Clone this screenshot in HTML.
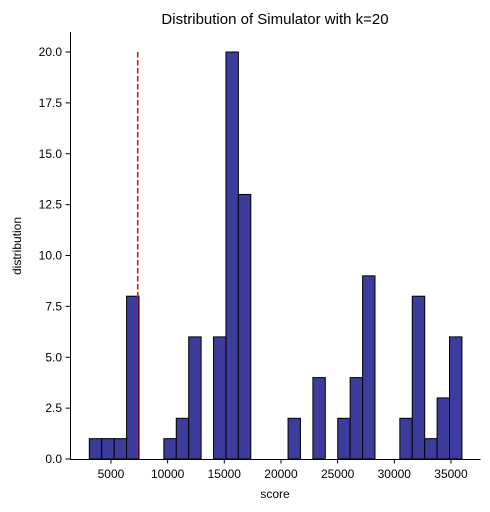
<!DOCTYPE html>
<html><head><meta charset="utf-8"><style>
body{margin:0;background:#fff;}
svg{display:block;font-family:"Liberation Sans","DejaVu Sans",sans-serif;}
</style></head><body>
<svg id="chart" width="490" height="512">
<text x="275" y="24" text-anchor="middle" font-size="15" fill="#000">Distribution of Simulator with k=20</text>
<g id="bars"></g>
<g id="xticks"></g>
<g id="yticks"></g>
<line x1="70.5" y1="32" x2="70.5" y2="459" stroke="#000" stroke-width="1"/>
<line x1="70" y1="459.5" x2="480.5" y2="459.5" stroke="#000" stroke-width="1"/>
<text x="275" y="498" text-anchor="middle" font-size="12">score</text>
<text x="0" y="0" transform="translate(21,246) rotate(-90)" text-anchor="middle" font-size="12">distribution</text>
</svg>
<script>
const binStart = 3090;
const binWidth = 1096;
const counts = [1,1,1,8,0,0,1,2,6,0,6,20,13,0,0,0,2,0,4,0,2,4,9,0,0,2,8,1,3,6];
const xTickValues = [5000,10000,15000,20000,25000,30000,35000];
const yTickValues = [0,2.5,5,7.5,10,12.5,15,17.5,20];
const yTickLabels = ["0.0","2.5","5.0","7.5","10.0","12.5","15.0","17.5","20.0"];
const thresholdValue = 7360;
const thresholdTop = 20;

const NS = "http://www.w3.org/2000/svg";
function xs(v){ return 54.3 + v * 11.333 / 1000; }
function ys(v){ return 459 - v * 20.35; }
function mk(tag, attrs, parent){ const e=document.createElementNS(NS,tag); for(const k in attrs) e.setAttribute(k,attrs[k]); parent.appendChild(e); return e; }

const bars=document.getElementById('bars');
counts.forEach((c,i)=>{
  if(c<=0) return;
  const x0=xs(binStart+i*binWidth), x1=xs(binStart+(i+1)*binWidth);
  const r=mk('rect',{x:x0,y:ys(c),width:x1-x0,height:ys(0)-ys(c),fill:'#3c3c9c',stroke:'#000','stroke-width':1},bars);
  
  
});
const xt=document.getElementById('xticks');
xTickValues.forEach(v=>{
  const x=xs(v);
  mk('line',{x1:x,y1:459,x2:x,y2:463.5,stroke:'#000'},xt);
  const t=mk('text',{x:x,y:478,'text-anchor':'middle','font-size':12},xt);
  t.textContent=v;
  
  
});
const yt=document.getElementById('yticks');
yTickValues.forEach((v,i)=>{
  const y=ys(v);
  mk('line',{x1:65.5,y1:y,x2:70,y2:y,stroke:'#000'},yt);
  const t=mk('text',{x:62,y:y+4,'text-anchor':'end','font-size':12},yt);
  t.textContent=yTickLabels[i];
  
  
});
const svg=document.getElementById('chart');
const ln=mk('line',{x1:xs(thresholdValue),y1:ys(thresholdTop),x2:xs(thresholdValue),y2:ys(0),stroke:'#ff0000','stroke-width':1.5,'stroke-dasharray':'5.5,2.5'},svg);


</script>
</body></html>
